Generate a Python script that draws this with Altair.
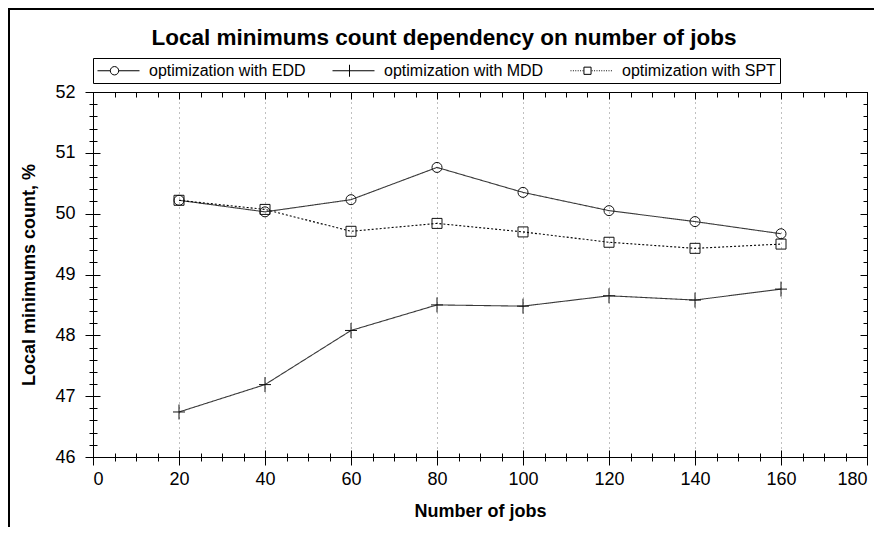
import altair as alt
import pandas as pd

# ---- data ----
jobs = [20, 40, 60, 80, 100, 120, 140, 160]
edd = [50.22, 50.03, 50.23, 50.76, 50.35, 50.05, 49.87, 49.67]
mdd = [46.74, 47.19, 48.08, 48.50, 48.48, 48.65, 48.58, 48.76]
spt = [50.22, 50.07, 49.71, 49.84, 49.70, 49.53, 49.43, 49.50]
series_names = ["optimization with EDD", "optimization with MDD", "optimization with SPT"]

x_major = [0, 20, 40, 60, 80, 100, 120, 140, 160, 180]
x_grid = [20, 40, 60, 80, 100, 120, 140, 160]
x_minor = list(range(0, 181, 5))
y_major = [46, 47, 48, 49, 50, 51, 52]
y_minor = [round(46 + 0.2 * i, 1) for i in range(31)]

TITLE = "Local minimums count dependency on number of jobs"
X_TITLE = "Number of jobs"
Y_TITLE = "Local minimums count, %"

rows = []
for name, vals in zip(series_names, [edd, mdd, spt]):
    for j, v in zip(jobs, vals):
        rows.append({"jobs": j, "value": v, "series": name})
df = pd.DataFrame(rows)

FONT = "Liberation Sans"
INK = "#000000"

# marker shapes (symbol size 100 -> 5 px per unit)
CROSS = "M-1.2,0H1.2M0,-1.5V1.5"

# legend symbols (symbol size 256 -> 8 px per unit); drawn from the left edge
# of the symbol slot (-1) over 42 px (to 4.25), marker at 17 px (1.125)
LEG_EDD = ("M-1,0H0.6M1.65,0H4.25"
           "M1.65,0A0.525,0.525,0,1,1,0.6,0A0.525,0.525,0,1,1,1.65,0")
LEG_MDD = "M-1,0H4.25M1.125,-0.75V0.75"
dots = "".join("M%.3f,0h0.12" % (-1 + 0.3 * i) for i in range(6))
dots += "".join("M%.3f,0h0.12" % (1.65 + 0.3 * i) for i in range(9))
LEG_SPT = dots + "M0.68,-0.45H1.57V0.45H0.68Z"

xs = alt.Scale(domain=[0, 180], nice=False, zero=False)
ys = alt.Scale(domain=[46, 52], nice=False, zero=False)


def ax(orient, values, size, offset=0, labels=False, title=None, grid=False, **kw):
    args = dict(orient=orient, values=values, tickSize=size, offset=offset,
                labels=labels, grid=grid, domain=False, tickColor=INK, tickWidth=1,
                title=title)
    args.update(kw)
    return alt.Axis(**args)


def enc(xaxis, yaxis):
    return dict(x=alt.X("jobs:Q", scale=xs, axis=xaxis),
                y=alt.Y("value:Q", scale=ys, axis=yaxis))


base = alt.Chart(df)

lines = base.mark_line().encode(
    **enc(ax("bottom", x_major, 8, labels=True, title=X_TITLE, format="d",
             labelFontSize=18, labelPadding=5, titleFontSize=18, titlePadding=14,
             titleFontWeight="bold"),
          ax("left", y_major, 8, labels=True, title=Y_TITLE, format="d",
             labelFontSize=18, labelPadding=10, titleFontSize=18, titlePadding=16,
             titleFontWeight="bold")),
    detail="series:N",
    color=alt.Color("series:N", scale=alt.Scale(domain=series_names,
                    range=["#3a3a3a", "#3a3a3a", "#000000"]), legend=None),
    strokeDash=alt.StrokeDash("series:N", scale=alt.Scale(domain=series_names,
                              range=[[1, 0], [1, 0], [2, 2]]), legend=None),
    strokeWidth=alt.StrokeWidth("series:N", scale=alt.Scale(domain=series_names,
                                range=[1.1, 1.1, 1.6]), legend=None),
)

points = base.mark_point(filled=False, color="#111111", strokeWidth=1, opacity=1,
                         size=100).encode(
    **enc(ax("bottom", x_grid, 7, offset=-7, grid=True, gridColor="#808080",
             gridDash=[1, 4], gridWidth=1),
          ax("left", y_major, 7, offset=-7)),
    shape=alt.Shape("series:N", scale=alt.Scale(domain=series_names,
                    range=["circle", CROSS, "square"]), legend=None),
)

legend_layer = base.mark_point(filled=False, color=INK, opacity=0, size=256).encode(
    **enc(ax("bottom", x_minor, 4), ax("left", y_minor, 4)),
    shape=alt.Shape("series:N", scale=alt.Scale(domain=series_names,
                    range=[LEG_EDD, LEG_MDD, LEG_SPT]),
                    legend=alt.Legend(title=None, orient="none", legendX=0, legendY=-34,
                                      direction="horizontal", symbolSize=256,
                                      symbolStrokeWidth=1, symbolStrokeColor=INK,
                                      symbolFillColor="transparent",
                                      labelFont=FONT, labelFontSize=16, labelColor=INK,
                                      labelOffset=35, columnPadding=24, padding=4,
                                      strokeColor=INK, fillColor="white",
                                      labelLimit=400)),
)

minor_in = base.mark_point(opacity=0).encode(
    **enc(ax("bottom", x_minor, 4, offset=-4), ax("left", y_minor, 4, offset=-4)))

top_right_major = base.mark_point(opacity=0).encode(
    **enc(ax("top", x_major, 7, offset=-7), ax("right", y_major, 7, offset=-7)))

top_right_minor = base.mark_point(opacity=0).encode(
    **enc(ax("top", x_minor, 5, offset=-5), ax("right", y_minor, 4, offset=-4)))

frame_left = alt.Chart(df).mark_rule(color=INK, strokeWidth=1.5).encode(
    x=alt.value(-84.2), y=alt.value(-84), y2=alt.value(450))
frame_top = alt.Chart(df).mark_rule(color=INK, strokeWidth=1.5).encode(
    x=alt.value(-85), x2=alt.value(781), y=alt.value(-83.2))

chart = alt.layer(
    lines, points, legend_layer, minor_in, top_right_major, top_right_minor,
    frame_left, frame_top
).resolve_axis(
    x="independent", y="independent"
).resolve_scale(
    shape="independent"
).properties(
    width=774, height=365,
    autosize=alt.AutoSizeParams(type="none"),
    padding={"left": 85, "top": 84, "right": 8, "bottom": 70},
    title=alt.TitleParams(TITLE, font=FONT, fontSize=22.5, fontWeight="bold",
                          color=INK, anchor="middle", offset=0, dy=42, dx=-36),
    background="white",
).configure_view(
    stroke=INK, strokeWidth=1
).configure_axis(
    labelFont=FONT, titleFont=FONT, labelColor=INK, titleColor=INK
)

chart.save("out.html", embed_options={"renderer": "svg", "actions": False})
